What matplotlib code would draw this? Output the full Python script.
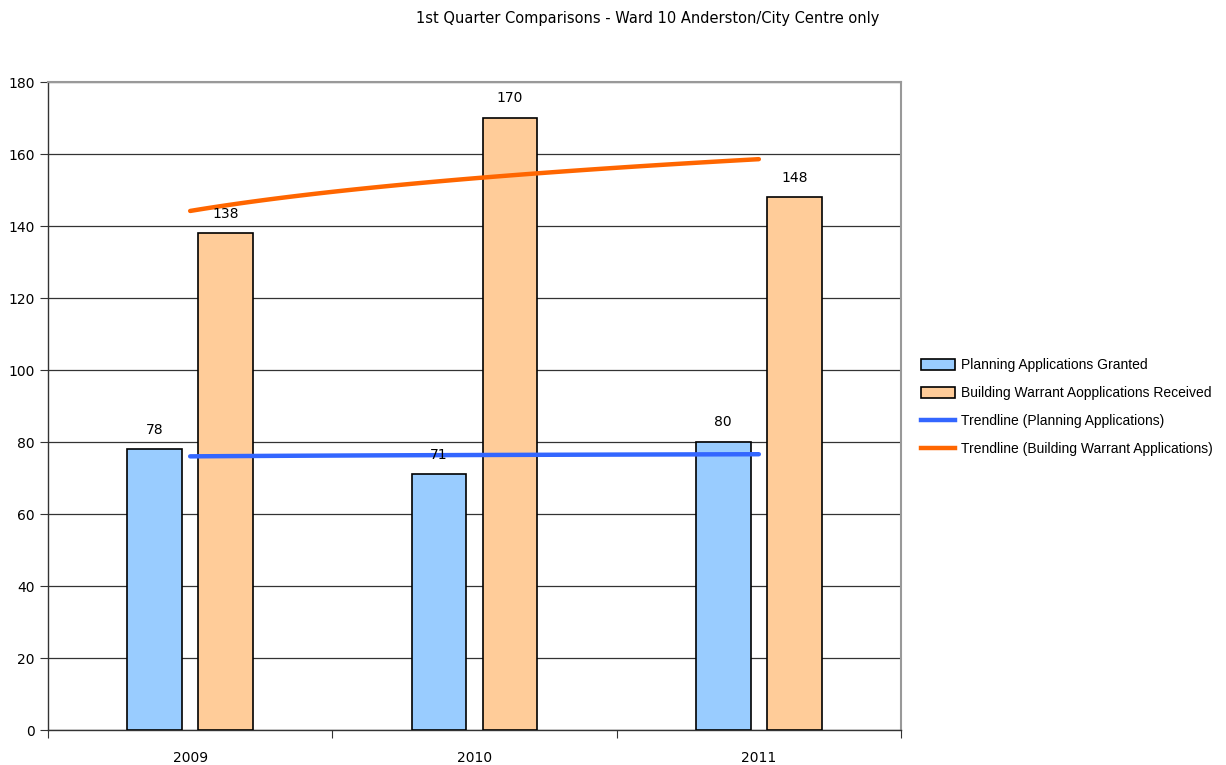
import numpy as np
import matplotlib
matplotlib.use('Agg')
import matplotlib.pyplot as plt
from matplotlib.patches import Patch
from matplotlib.lines import Line2D

years = ['2009', '2010', '2011']
planning = [78, 71, 80]
warrants = [138, 170, 148]

plt.rcParams['font.family'] = ['DejaVu Sans']


def log_trend(values):
    # Excel-style logarithmic trendline: y = a + b*ln(x), x = 1..n
    x = np.arange(1, len(values) + 1)
    b, a = np.polyfit(np.log(x), values, 1)
    xs = np.linspace(1, len(values), 100)
    return xs, a + b * np.log(xs)


fig = plt.figure(figsize=(12.26, 7.65), dpi=100)
ax = fig.add_axes([48 / 1226, 35 / 765, 853 / 1226, 648 / 765])

pos = np.arange(len(years)) + 0.5
width = 0.193
off = 0.125

ax.bar(pos - off, planning, width, color='#99CCFF', edgecolor='black', linewidth=1.2, zorder=3)
ax.bar(pos + off, warrants, width, color='#FFCC99', edgecolor='black', linewidth=1.2, zorder=3)

for x, v in zip(pos - off, planning):
    ax.text(x, v + 3.5, str(v), ha='center', va='bottom', fontsize=10, zorder=5)
for x, v in zip(pos + off, warrants):
    ax.text(x, v + 3.5, str(v), ha='center', va='bottom', fontsize=10, zorder=5)

xs, ys = log_trend(planning)
ax.plot(xs - 0.5, ys, color='#3366FF', linewidth=3.2, solid_capstyle='round', zorder=4)
xs, ys = log_trend(warrants)
ax.plot(xs - 0.5, ys, color='#FF6600', linewidth=3.2, solid_capstyle='round', zorder=4)

ax.set_xlim(0, 3)
ax.set_ylim(0, 180)
ax.set_yticks(range(0, 181, 20))
ax.yaxis.grid(True, color='#333333', linewidth=0.9, zorder=0)
ax.set_axisbelow(True)

ax.set_xticks([0, 1, 2, 3])
ax.set_xticklabels([])
ax.set_xticks(pos, minor=True)
ax.set_xticklabels(years, minor=True)
ax.tick_params(axis='x', which='minor', length=0, pad=15, labelsize=10)
ax.tick_params(axis='x', which='major', length=6, direction='out', color='#333333')
ax.tick_params(axis='y', length=6, direction='out', labelsize=10, color='#333333')

for side in ['top', 'right']:
    ax.spines[side].set_color('#999999')
    ax.spines[side].set_linewidth(1.5)
for side in ['left', 'bottom']:
    ax.spines[side].set_color('#333333')
    ax.spines[side].set_linewidth(1.0)

fig.text(648 / 1226, 1 - 18 / 765, '1st Quarter Comparisons - Ward 10 Anderston/City Centre only',
         ha='center', va='center', fontsize=10.5,
         family=['Liberation Sans Narrow', 'DejaVu Sans'])

handles = [
    Patch(facecolor='#99CCFF', edgecolor='black', linewidth=1.2),
    Patch(facecolor='#FFCC99', edgecolor='black', linewidth=1.2),
    Line2D([], [], color='#3366FF', linewidth=3.2),
    Line2D([], [], color='#FF6600', linewidth=3.2),
]
labels = [
    'Planning Applications Granted',
    'Building Warrant Aopplications Received',
    'Trendline (Planning Applications)',
    'Trendline (Building Warrant Applications)',
]
fig.legend(handles, labels, loc='center left', bbox_to_anchor=(908 / 1226, 1 - 407 / 765),
           frameon=False, prop={'family': ['Liberation Sans', 'DejaVu Sans'], 'size': 10},
           handlelength=2.5, handleheight=0.9, handletextpad=0.45, labelspacing=1.0)

fig.savefig('out.png', dpi=100)
